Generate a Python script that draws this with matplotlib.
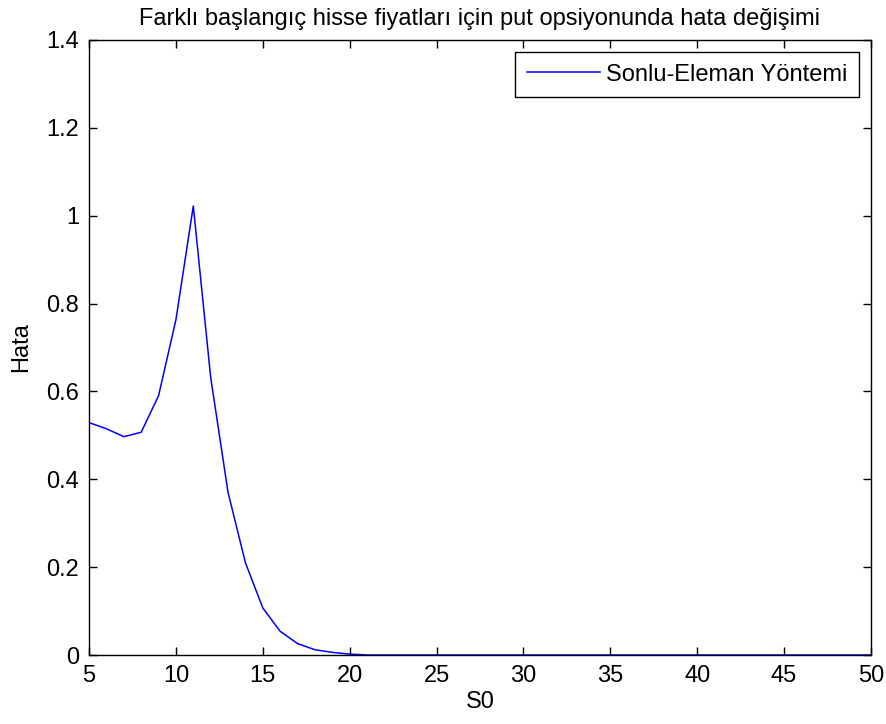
import numpy as np
import matplotlib.pyplot as plt

# S0 values and error
s0 = list(range(5, 51))
hata_head = [0.529, 0.515, 0.497, 0.507, 0.59, 0.763, 1.022, 0.632, 0.37, 0.21,
             0.107, 0.054, 0.026, 0.012, 0.006, 0.002]
hata = hata_head + [0.0] * (len(s0) - len(hata_head))

title = "Farklı başlangıç hisse fiyatları için put opsiyonunda hata değişimi"

plt.rcParams['font.family'] = ['Liberation Sans', 'DejaVu Sans']

fig = plt.figure(figsize=(8.86, 7.24), dpi=100)
ax = fig.add_axes([0.1005, 0.0953, 0.8825, 0.8495])

ax.plot(s0, hata, color='#0000ff', linewidth=1.1, label='Sonlu-Eleman Yöntemi')

ax.set_xlim(5, 50)
ax.set_ylim(0, 1.4)
ax.set_xticks(range(5, 51, 5))
ax.set_yticks([0, 0.2, 0.4, 0.6, 0.8, 1, 1.2, 1.4])
ax.set_yticklabels(['0', '0.2', '0.4', '0.6', '0.8', '1', '1.2', '1.4'])
ax.tick_params(direction='in', length=6, width=1, top=True, right=True,
               labelsize=17, pad=7)
for sp in ax.spines.values():
    sp.set_linewidth(1)

ax.set_xlabel('S0', fontsize=17, labelpad=3)
ax.set_ylabel('Hata', fontsize=17, labelpad=10)
ax.set_title(title, fontsize=17, pad=11)

leg = ax.legend(loc='upper right', fontsize=17, fancybox=False, framealpha=1,
                edgecolor='black', handlelength=3.1, handletextpad=0.25,
                borderaxespad=0.5, borderpad=0.5)
leg.get_frame().set_linewidth(1)

fig.savefig('out.png', dpi=100)
